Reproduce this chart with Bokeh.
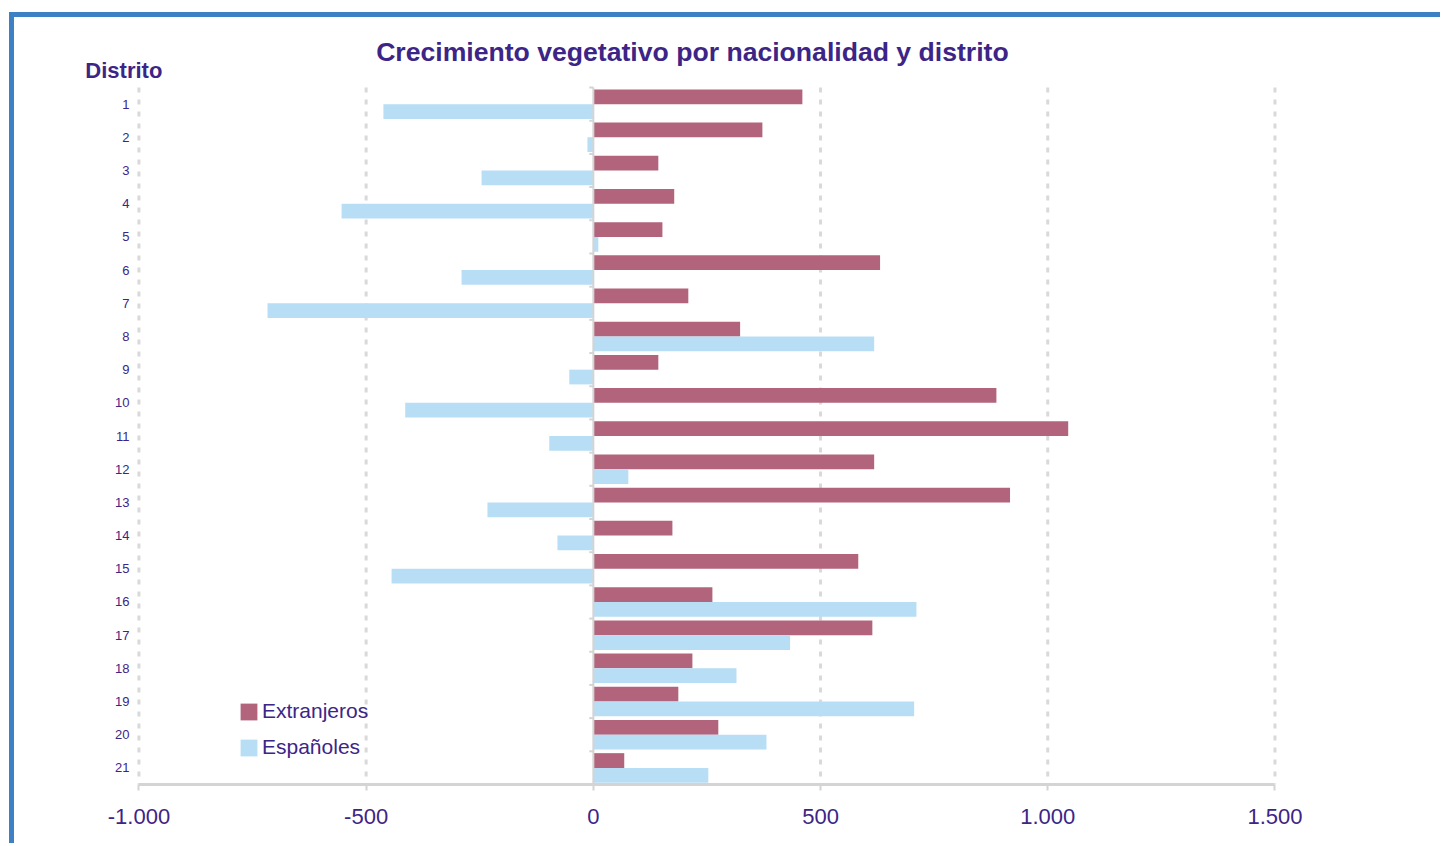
from bokeh.plotting import figure
from bokeh.models import (ColumnDataSource, Range1d, FixedTicker, Label)
from bokeh.transform import dodge
from bokeh.core.properties import value
from bokeh.embed import file_html
from bokeh.resources import INLINE

# ---- data ----
districts = [str(i) for i in range(1, 22)]
extranjeros = [460, 372, 143, 178, 152, 631, 209, 323, 143, 887, 1045,
               618, 917, 174, 583, 262, 614, 218, 187, 275, 68]
espanoles = [-462, -13, -246, -554, 11, -290, -717, 618, -53, -414, -97,
             77, -233, -79, -444, 711, 433, 315, 706, 381, 253]
x_ticks = [-1000, -500, 0, 500, 1000, 1500]
x_tick_labels = ["-1.000", "-500", "0", "500", "1.000", "1.500"]
title_text = "Crecimiento vegetativo por nacionalidad y distrito"
y_title = "Distrito"

# ---- styles ----
PURPLE = "#3c2586"
MAROON = "#b2647c"
LIGHTBLUE = "#b7def5"
GRID = "#d9d9d9"
AXIS = "#d4d4d4"
FONT = "Liberation Sans"

n = len(districts)
pos = list(range(1, n + 1))
src = ColumnDataSource(dict(y=pos, ext=extranjeros, esp=espanoles, lab=districts))

# frame is widened to the left/top so that headings can live inside it
p = figure(frame_width=1201, frame_height=759,
           min_border_left=64, min_border_right=161,
           min_border_top=8, min_border_bottom=59,
           x_range=Range1d(-1133, 1510),
           y_range=Range1d(n + 0.5, -1.37),
           output_backend="svg", toolbar_location=None, tools="")
p.margin = (12, 0, 0, 9)
p.styles = {"border-top": "5px solid #3d80c4", "border-left": "5px solid #3d80c4"}
p.outline_line_color = None
p.background_fill_color = "white"
p.border_fill_color = "white"
p.grid.visible = False
p.yaxis.visible = False

top, bottom = 0.5, n + 0.5

# dashed vertical grid lines (all ticks except the zero axis)
grid_x = [t for t in x_ticks if t != 0]
p.segment(x0=grid_x, x1=grid_x, y0=[top] * len(grid_x), y1=[bottom] * len(grid_x),
          line_color=GRID, line_width=3, line_dash="5 7")

# bars
p.hbar(y=dodge("y", -0.222, range=p.y_range), left=0, right="ext", height=0.445,
       source=src, fill_color=MAROON, line_color=None, legend_label="Extranjeros")
p.hbar(y=dodge("y", 0.222, range=p.y_range), left=0, right="esp", height=0.445,
       source=src, fill_color=LIGHTBLUE, line_color=None, legend_label="Españoles")

# zero axis line with category ticks
p.segment(x0=[0], x1=[0], y0=[top], y1=[bottom], line_color=AXIS, line_width=2)
bounds = [i + 0.5 for i in range(0, n)]
p.segment(x0=[-9] * len(bounds), x1=[0] * len(bounds), y0=bounds, y1=bounds,
          line_color=AXIS, line_width=2)

# category labels (district numbers) left of the -1000 line
p.text(x=-1021, y="y", text="lab", source=src, text_align="right",
       text_baseline="middle", text_font=value(FONT), text_font_size="13px",
       text_color=PURPLE)

# x axis
xa = p.xaxis[0]
xa.bounds = (x_ticks[0], x_ticks[-1])
xa.ticker = FixedTicker(ticks=x_ticks)
xa.major_label_overrides = {t: l for t, l in zip(x_ticks, x_tick_labels)}
xa.minor_tick_line_color = None
xa.axis_line_color = AXIS
xa.axis_line_width = 3
xa.major_tick_line_color = AXIS
xa.major_tick_line_width = 2
xa.major_tick_in = 0
xa.major_tick_out = 6
xa.major_label_standoff = 18
xa.major_label_text_font = FONT
xa.major_label_text_font_size = "22px"
xa.major_label_text_color = PURPLE

# headings
p.add_layout(Label(x=218, y=-0.585, text=title_text,
                   text_align="center", text_baseline="middle", text_font=FONT,
                   text_font_style="bold", text_font_size="26.6px", text_color=PURPLE))
p.add_layout(Label(x=-1118, y=-0.012, text=y_title,
                   text_align="left", text_baseline="middle", text_font=FONT,
                   text_font_style="bold", text_font_size="22px", text_color=PURPLE))

# legend
lg = p.legend[0]
lg.location = (160, 25)
lg.padding = 0
lg.margin = 0
lg.spacing = 12
lg.border_line_color = None
lg.background_fill_alpha = 0
lg.glyph_width = 21
lg.glyph_height = 21
lg.label_standoff = 3
lg.label_text_font = FONT
lg.label_text_font_size = "21px"
lg.label_text_color = PURPLE

open("out.html", "w").write(file_html(p, INLINE))
